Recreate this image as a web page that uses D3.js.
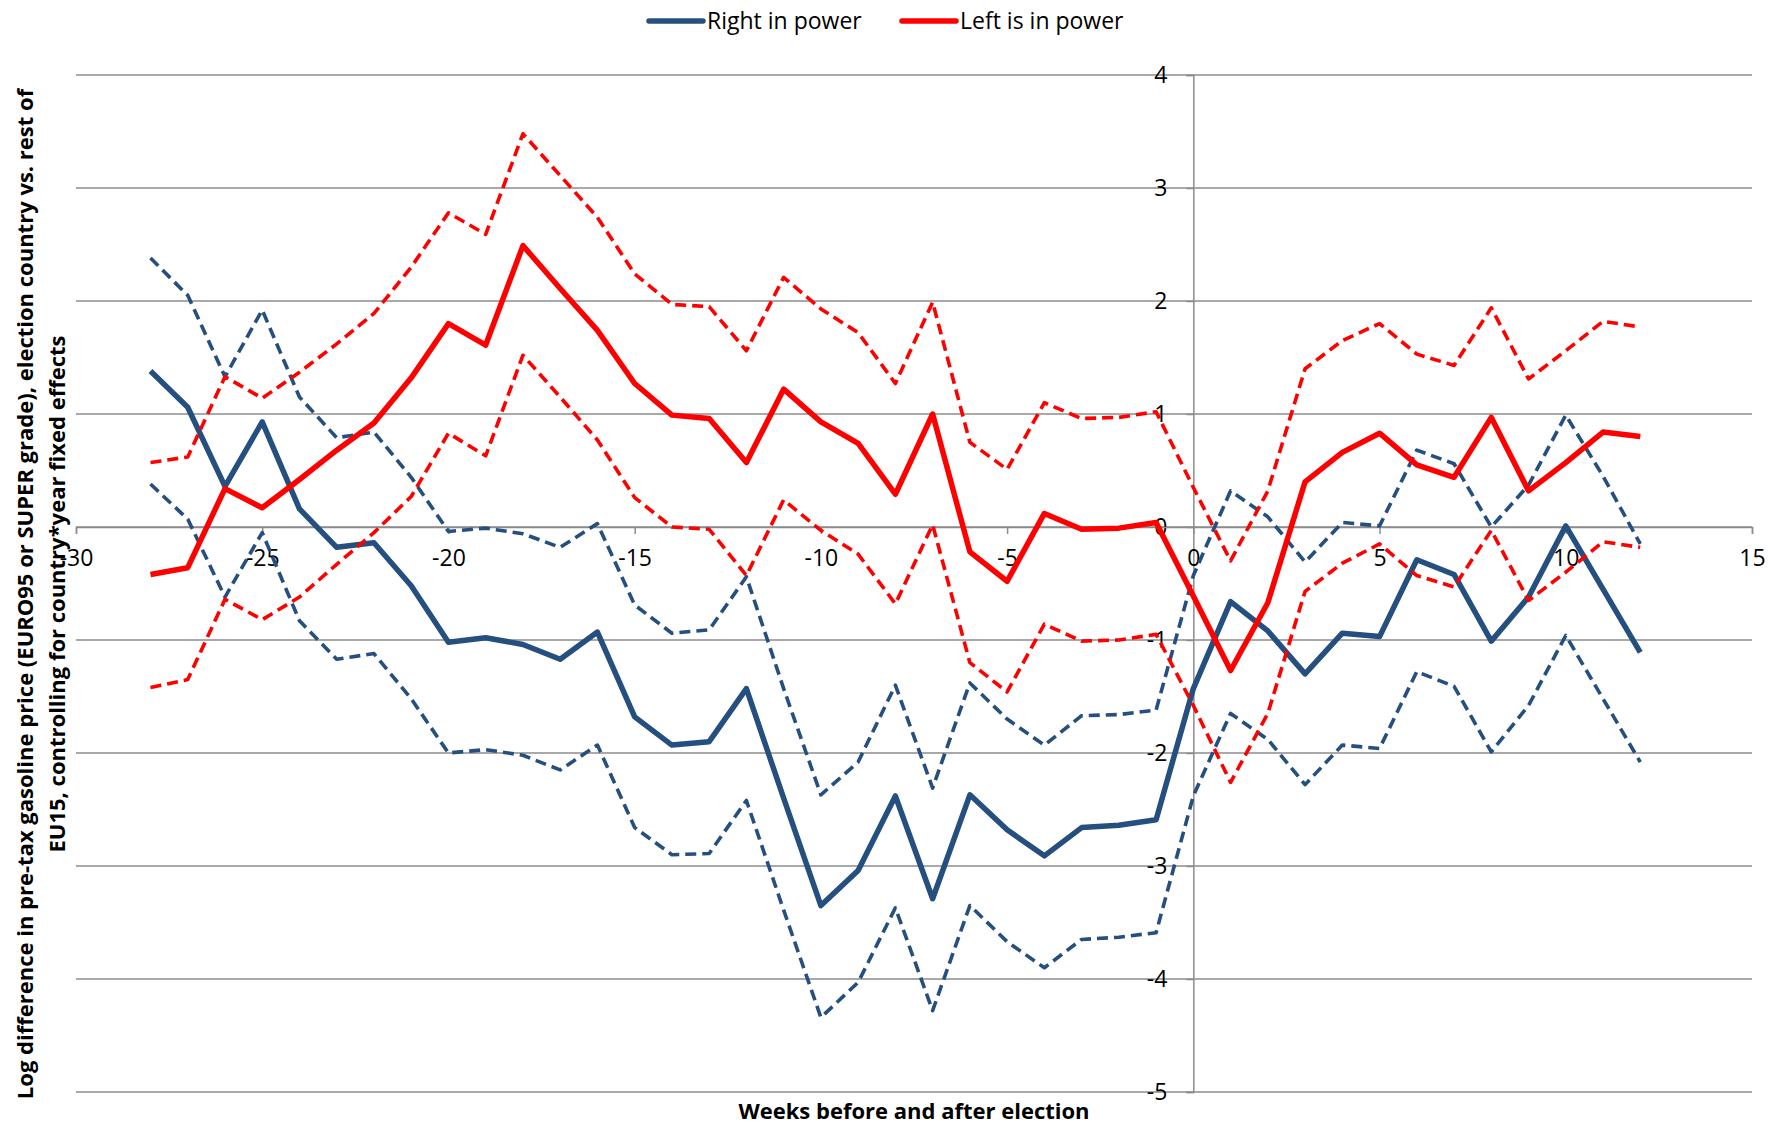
<!DOCTYPE html>
<html>
<head>
<meta charset="utf-8">
<script src="https://cdn.jsdelivr.net/npm/d3@7"></script>
<style>
  body { margin: 0; background: #fff; }
  text { font-family: "Open Sans", sans-serif; fill: #000; }
</style>
</head>
<body>
<script>
var weeks = [-28, -27, -26, -25, -24, -23, -22, -21, -20, -19, -18, -17, -16, -15, -14, -13, -12, -11, -10, -9,
  -8, -7, -6, -5, -4, -3, -2, -1, 0, 1, 2, 3, 4, 5, 6, 7, 8, 9, 10, 11, 12];

var rightMid = [1.38, 1.06, 0.36, 0.93, 0.16, -0.18, -0.14, -0.52, -1.02, -0.98, -1.04, -1.17, -0.93, -1.68, -1.93, -1.90, -1.43, -2.40, -3.35, -3.04,
  -2.38, -3.29, -2.37, -2.68, -2.91, -2.66, -2.64, -2.59, -1.43, -0.66, -0.92, -1.30, -0.94, -0.97, -0.29, -0.42, -1.01, -0.62, 0.01, -0.55, -1.11];
var rightUp = [2.38, 2.05, 1.33, 1.92, 1.15, 0.79, 0.84, 0.44, -0.04, -0.01, -0.06, -0.18, 0.03, -0.69, -0.94, -0.91, -0.44, -1.43, -2.37, -2.08,
  -1.40, -2.31, -1.38, -1.70, -1.93, -1.67, -1.66, -1.62, -0.43, 0.32, 0.09, -0.31, 0.04, 0.01, 0.68, 0.56, 0.0, 0.37, 0.99, 0.45, -0.15];
var rightLo = [0.38, 0.07, -0.62, -0.05, -0.83, -1.17, -1.12, -1.52, -2.00, -1.97, -2.02, -2.15, -1.93, -2.66, -2.90, -2.89, -2.42, -3.39, -4.34, -4.03,
  -3.37, -4.28, -3.35, -3.67, -3.90, -3.65, -3.63, -3.59, -2.38, -1.65, -1.88, -2.28, -1.93, -1.96, -1.28, -1.41, -1.99, -1.58, -0.96, -1.52, -2.08];

var leftMid = [-0.42, -0.36, 0.34, 0.17, 0.42, 0.68, 0.92, 1.32, 1.80, 1.61, 2.49, 2.11, 1.74, 1.27, 0.99, 0.96, 0.57, 1.22, 0.93, 0.74,
  0.29, 1.00, -0.22, -0.48, 0.12, -0.02, -0.01, 0.04, -0.61, -1.27, -0.67, 0.40, 0.66, 0.83, 0.55, 0.44, 0.97, 0.32, 0.57, 0.84, 0.80];
var leftUp = [0.57, 0.62, 1.33, 1.14, 1.37, 1.62, 1.89, 2.30, 2.78, 2.59, 3.48, 3.11, 2.74, 2.24, 1.97, 1.95, 1.56, 2.21, 1.93, 1.72,
  1.27, 1.99, 0.75, 0.51, 1.10, 0.96, 0.97, 1.02, 0.35, -0.30, 0.32, 1.40, 1.65, 1.80, 1.53, 1.43, 1.94, 1.31, 1.56, 1.82, 1.77];
var leftLo = [-1.42, -1.35, -0.64, -0.82, -0.62, -0.33, -0.05, 0.27, 0.83, 0.63, 1.52, 1.15, 0.77, 0.26, 0.00, -0.02, -0.43, 0.24, -0.03, -0.24,
  -0.68, 0.02, -1.20, -1.46, -0.86, -1.01, -1.00, -0.95, -1.58, -2.26, -1.65, -0.57, -0.32, -0.15, -0.43, -0.53, -0.03, -0.65, -0.40, -0.13, -0.18];

var xTicks = [-30, -25, -20, -15, -10, -5, 0, 5, 10, 15];
var yTicks = [-5, -4, -3, -2, -1, 0, 1, 2, 3, 4];

var w = 1783;
var h = 1126;
var blue = '#254f7f';
var red = '#ff0000';
var gridColor = '#8c8c8c';

var svg = d3.select('body')
  .append('svg')
  .attr('width', w)
  .attr('height', h);

var xScale = d3.scaleLinear()
  .domain([-30, 15])
  .range([76, 1752]);

var yScale = d3.scaleLinear()
  .domain([-5, 4])
  .range([1092, 75]);

// horizontal gridlines
svg.append('g')
  .selectAll('line')
  .data(yTicks)
  .enter()
  .append('line')
  .attr('x1', xScale(-30))
  .attr('x2', xScale(15))
  .attr('y1', d => yScale(d))
  .attr('y2', d => yScale(d))
  .attr('stroke', gridColor)
  .attr('stroke-width', 1.5);

// y axis sits at week 0
var yAxis = d3.axisLeft(yScale)
  .tickValues(yTicks)
  .tickSize(7)
  .tickPadding(19)
  .tickFormat(d => String(d));

var yAxisG = svg.append('g')
  .attr('transform', 'translate(' + xScale(0) + ',0)')
  .call(yAxis);

// x axis sits at 0
var xAxis = d3.axisBottom(xScale)
  .tickValues(xTicks)
  .tickSize(7)
  .tickPadding(25)
  .tickFormat(d => String(d));

var xAxisG = svg.append('g')
  .attr('transform', 'translate(0,' + yScale(0) + ')')
  .call(xAxis);

[xAxisG, yAxisG].forEach(function (g) {
  g.select('.domain').attr('stroke', gridColor).attr('stroke-width', 1.5);
  g.selectAll('.tick line').attr('stroke', gridColor).attr('stroke-width', 1.5);
  g.selectAll('.tick text')
    .attr('font-family', '"Open Sans", sans-serif')
    .attr('font-size', 23)
    .attr('fill', '#000');
});
xAxisG.selectAll('.tick text').attr('dy', '0.3em');

var line = d3.line()
  .x((d, i) => xScale(weeks[i]))
  .y(d => yScale(d));

var series = [
  { values: rightMid, color: blue, width: 5.5, dash: null },
  { values: rightUp, color: blue, width: 3.6, dash: '11,6' },
  { values: rightLo, color: blue, width: 3.6, dash: '11,6' },
  { values: leftMid, color: red, width: 5.5, dash: null },
  { values: leftUp, color: red, width: 3.6, dash: '11,6' },
  { values: leftLo, color: red, width: 3.6, dash: '11,6' }
];

svg.append('g')
  .selectAll('path')
  .data(series)
  .enter()
  .append('path')
  .attr('d', d => line(d.values))
  .attr('fill', 'none')
  .attr('stroke', d => d.color)
  .attr('stroke-width', d => d.width)
  .attr('stroke-dasharray', d => d.dash)
  .attr('stroke-linejoin', 'round');

// legend
var legendItems = [
  { label: 'Right in power', color: blue, x: 649 },
  { label: 'Left is in power', color: red, x: 902 }
];

var legend = svg.append('g')
  .selectAll('g')
  .data(legendItems)
  .enter()
  .append('g')
  .attr('transform', d => 'translate(' + d.x + ',21)');

legend.append('line')
  .attr('x1', 0)
  .attr('x2', 54)
  .attr('stroke', d => d.color)
  .attr('stroke-width', 5.5)
  .attr('stroke-linecap', 'round');

legend.append('text')
  .attr('x', 58)
  .attr('dy', '0.35em')
  .attr('font-size', 23)
  .text(d => d.label);

// axis titles
svg.append('text')
  .attr('x', 914)
  .attr('y', 1111)
  .attr('dy', '0.35em')
  .attr('text-anchor', 'middle')
  .attr('font-size', 22)
  .attr('font-weight', 'bold')
  .text('Weeks before and after election');

var yTitle = svg.append('text')
  .attr('transform', 'translate(25,594) rotate(-90)')
  .attr('text-anchor', 'middle')
  .attr('font-size', 22)
  .attr('font-weight', 'bold');

yTitle.append('tspan')
  .attr('x', 0)
  .attr('dy', '0.35em')
  .text('Log difference in pre-tax gasoline price (EURO95 or SUPER grade), election country vs. rest of');

yTitle.append('tspan')
  .attr('x', 0)
  .attr('dy', 32)
  .text('EU15, controlling for country*year fixed effects');
</script>
</body>
</html>
